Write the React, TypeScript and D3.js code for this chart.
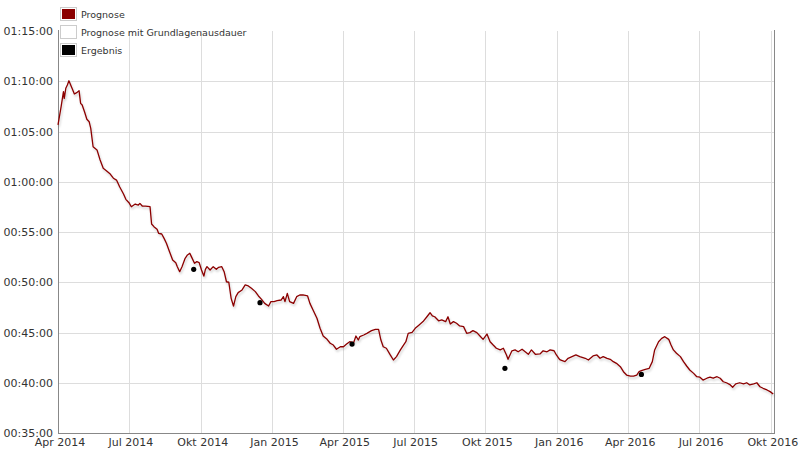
import React from "react";
import * as d3 from "d3";

const START = new Date(2014, 3, 1);
const END = new Date(2016, 9, 5);

// days since START
const prognoseDays = [0,4,7,8,10,12,14,18,21,24,27,29,31,34,37,40,42,45,50,54,58,62,67,71,75,79,84,87,91,94,99,103,105,108,112,118,120,123,127,129,133,136,139,143,147,151,153,156,159,163,166,169,171,175,178,181,184,187,189,191,195,199,203,206,210,213,216,219,222,225,228,231,236,240,244,248,253,257,261,265,270,273,277,281,286,289,291,294,297,302,306,310,314,320,323,327,332,336,340,345,349,353,357,362,366,370,374,379,382,385,387,392,396,402,407,411,414,417,421,426,430,434,439,443,446,449,454,458,463,468,473,477,480,483,488,492,497,500,503,507,511,515,520,524,528,532,537,541,545,550,554,558,562,567,571,575,577,582,586,590,595,599,603,607,612,618,622,627,631,636,639,643,644,650,654,659,664,669,676,680,686,691,695,699,704,708,712,716,721,725,729,734,738,742,745,748,753,758,762,765,770,774,778,783,786,789,793,798,802,806,810,815,819,823,827,832,836,840,845,849,853,857,862,865,869,874,879,883,887,892,896,900,904,909,913,917];

// predicted time in seconds
const prognoseSeconds = [3939,4048,4138,4098,4158,4178,4203,4158,4124,4132,4144,4068,4058,4018,3973,3958,3919,3809,3790,3730,3680,3666,3646,3621,3610,3570,3527,3495,3475,3451,3467,3461,3471,3455,3455,3451,3348,3332,3316,3292,3288,3262,3233,3182,3133,3117,3093,3063,3093,3143,3163,3173,3153,3113,3123,3117,3073,3037,3077,3093,3073,3093,3077,3089,3093,3063,3003,3000,2904,2858,2914,2938,2954,2984,2978,2964,2944,2918,2898,2874,2858,2884,2884,2890,2894,2914,2884,2934,2884,2874,2914,2924,2924,2918,2874,2834,2785,2725,2679,2659,2636,2625,2600,2615,2615,2631,2645,2639,2679,2655,2675,2685,2695,2711,2719,2719,2655,2615,2606,2566,2536,2556,2596,2625,2645,2695,2701,2725,2745,2765,2794,2818,2799,2794,2770,2775,2765,2794,2751,2765,2755,2739,2735,2695,2699,2711,2699,2679,2659,2691,2645,2625,2606,2596,2606,2566,2540,2591,2596,2585,2600,2585,2570,2596,2570,2572,2591,2585,2596,2591,2566,2540,2536,2526,2546,2556,2566,2556,2546,2536,2560,2566,2546,2556,2546,2540,2526,2516,2496,2466,2446,2440,2440,2446,2466,2472,2480,2486,2526,2596,2645,2665,2675,2659,2625,2596,2576,2556,2526,2500,2476,2456,2436,2433,2416,2427,2433,2427,2436,2427,2406,2400,2387,2373,2393,2400,2393,2400,2387,2393,2400,2376,2367,2357,2347,2333];

const ergebnisDays = [174, 259, 377, 573, 748];
const ergebnisSeconds = [3077, 2878, 2631, 2486, 2450];

const monthNames = ["Jan", "Feb", "Mär", "Apr", "Mai", "Jun", "Jul", "Aug", "Sep", "Okt", "Nov", "Dez"];
const xTickDates = ["2014-04-01","2014-07-01","2014-10-01","2015-01-01","2015-04-01","2015-07-01","2015-10-01","2016-01-01","2016-04-01","2016-07-01","2016-10-01"];
const yTickSeconds = [2100, 2400, 2700, 3000, 3300, 3600, 3900, 4200, 4500];

const legendLabels = ["Prognose", "Prognose mit Grundlagenausdauer", "Ergebnis"];
const legendColors = ["#8b0000", "#ffffff", "#000000"];

const W = 800, H = 450;
const M = { left: 58, right: 26, top: 31, bottom: 17 };

const dayToDate = (d: number) => d3.timeDay.offset(START, d);
const parseDate = d3.timeParse("%Y-%m-%d");
const pad = (n: number) => String(n).padStart(2, "0");
const fmtTime = (s: number) => `${pad(Math.floor(s / 3600))}:${pad(Math.floor((s % 3600) / 60))}:${pad(s % 60)}`;
const fmtDate = (d: Date) => `${monthNames[d.getMonth()]} ${d.getFullYear()}`;

export default function App() {
  const x = d3.scaleTime().domain([START, END]).range([M.left, W - M.right]);
  const y = d3.scaleLinear().domain([2100, 4500]).range([H - M.bottom, M.top]);

  const n = Math.min(prognoseDays.length, prognoseSeconds.length);
  const data = d3.range(n).map(i => ({ date: dayToDate(prognoseDays[i]), v: prognoseSeconds[i] }));
  const line = d3.line<{ date: Date; v: number }>().x(d => x(d.date)).y(d => y(d.v));
  const pts = ergebnisDays.map((d, i) => ({ date: dayToDate(d), v: ergebnisSeconds[i] }));

  const font = "'DejaVu Sans', Verdana, sans-serif";
  const x0 = M.left, x1 = W - M.right, y0 = M.top, y1 = H - M.bottom;

  return (
    <div style={{ position: "fixed", left: 0, top: 0, width: W, height: H, background: "#fff" }}>
      <svg width={W} height={H} style={{ display: "block" }}>
        <defs>
          <filter id="shadow" x="-5%" y="-5%" width="110%" height="120%">
            <feDropShadow dx="1" dy="2" stdDeviation="1" floodColor="#000" floodOpacity="0.2" />
          </filter>
        </defs>
        {yTickSeconds.map(t => (
          t > 2100 && t < 4500 ? (
            <line key={"hg" + t} x1={x0} x2={x1} y1={Math.round(y(t)) + 0.5} y2={Math.round(y(t)) + 0.5} stroke="#dddddd" strokeWidth={1} />
          ) : null
        ))}
        {xTickDates.map(s => {
          const xx = Math.round(x(parseDate(s)!)) + 0.5;
          return xx > x0 + 1 ? <line key={"vg" + s} x1={xx} x2={xx} y1={y0} y2={y1} stroke="#dddddd" strokeWidth={1} /> : null;
        })}
        <line x1={x0 + 0.5} x2={x0 + 0.5} y1={y0 - 1} y2={y1} stroke="#888" strokeWidth={1} />
        <line x1={x1 + 0.5} x2={x1 + 0.5} y1={y0 - 1} y2={y1} stroke="#888" strokeWidth={1} />
        <line x1={x0} x2={x1 + 1} y1={y1 + 0.5} y2={y1 + 0.5} stroke="#888" strokeWidth={1} />
        {yTickSeconds.map(t => (
          <text key={"yl" + t} x={x0 - 5} y={y(t) + 4} textAnchor="end" fontFamily={font} fontSize={11} fill="#333">{fmtTime(t)}</text>
        ))}
        {xTickDates.map(s => {
          const d = parseDate(s)!;
          return <text key={"xl" + s} x={x(d) + 2} y={446} textAnchor="middle" fontFamily={font} fontSize={11} fill="#333">{fmtDate(d)}</text>;
        })}
        <path d={line(data) || ""} fill="none" stroke="#8b0000" strokeWidth={1.3} strokeLinejoin="round" filter="url(#shadow)" />
        {pts.map((p, i) => (
          <circle key={"p" + i} cx={x(p.date)} cy={y(p.v)} r={2.6} fill="#000" />
        ))}
        {legendLabels.map((l, i) => (
          <g key={"lg" + i} transform={`translate(60, ${7 + i * 18})`}>
            <rect x={0.5} y={0.5} width={16} height={13} fill="#fff" stroke="#cccccc" strokeWidth={1} />
            <rect x={2} y={2} width={13} height={10} fill={legendColors[i]} />
            <text x={21} y={10.5} fontFamily={font} fontSize={9.5} fill="#333">{l}</text>
          </g>
        ))}
      </svg>
    </div>
  );
}
